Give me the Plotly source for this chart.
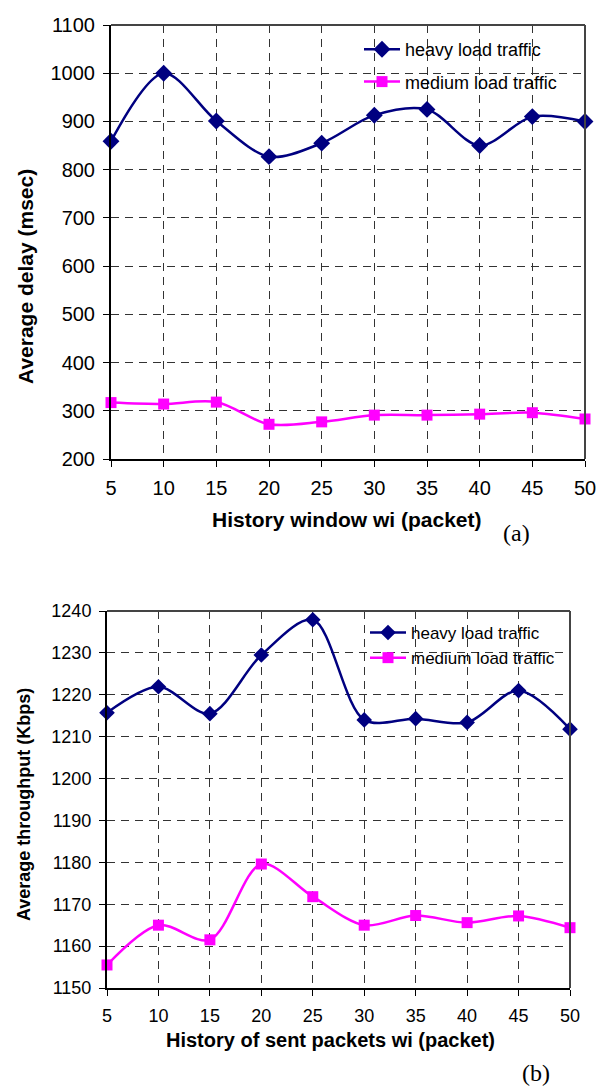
import plotly.graph_objects as go

# ---- data ----
window_sizes = [5, 10, 15, 20, 25, 30, 35, 40, 45, 50]

delay_heavy = [859, 1000, 901, 827, 855, 913, 925, 850, 910, 900]
delay_medium = [317, 314, 318, 272, 277, 291, 291, 293, 296, 283]

thr_heavy = [1215.7, 1221.9, 1215.5, 1229.5, 1237.9, 1214.0, 1214.3, 1213.4, 1221.0, 1211.8]
thr_medium = [1155.5, 1165.0, 1161.5, 1179.6, 1171.8, 1165.0, 1167.3, 1165.6, 1167.2, 1164.4]

delay_ticks = [200, 300, 400, 500, 600, 700, 800, 900, 1000, 1100]
thr_ticks = [1150, 1160, 1170, 1180, 1190, 1200, 1210, 1220, 1230, 1240]

series_names = ["heavy load traffic", "medium load traffic"]

W, H = 598, 1088
NAVY = "#000080"
MAG = "#FF00FF"
FONT = "Liberation Sans, Arial, sans-serif"


def px(x):
    return x / W


def py(y):
    return 1 - y / H


fig = go.Figure()

# top chart (a)
fig.add_trace(go.Scatter(
    x=window_sizes, y=delay_heavy, name=series_names[0], mode="lines+markers",
    line=dict(color=NAVY, width=2.5, shape="spline", smoothing=0.9),
    marker=dict(symbol="diamond", size=13, color=NAVY),
    cliponaxis=False, xaxis="x", yaxis="y", legend="legend", legendgroup="a1"))
fig.add_trace(go.Scatter(
    x=window_sizes, y=delay_medium, name=series_names[1], mode="lines+markers",
    line=dict(color=MAG, width=2.5, shape="spline", smoothing=0.9),
    marker=dict(symbol="square", size=11, color=MAG),
    cliponaxis=False, xaxis="x", yaxis="y", legend="legend", legendgroup="a2"))

# bottom chart (b)
fig.add_trace(go.Scatter(
    x=window_sizes, y=thr_heavy, name=series_names[0], mode="lines+markers",
    line=dict(color=NAVY, width=2.5, shape="spline", smoothing=0.9),
    marker=dict(symbol="diamond", size=12, color=NAVY),
    cliponaxis=False, xaxis="x2", yaxis="y2", legend="legend2", legendgroup="b1"))
fig.add_trace(go.Scatter(
    x=window_sizes, y=thr_medium, name=series_names[1], mode="lines+markers",
    line=dict(color=MAG, width=2.5, shape="spline", smoothing=0.9),
    marker=dict(symbol="square", size=11, color=MAG),
    cliponaxis=False, xaxis="x2", yaxis="y2", legend="legend2", legendgroup="b2"))

grid = dict(showgrid=True, gridcolor="#333333", gridwidth=1, griddash="8px,6px",
            showline=True, linecolor="black", linewidth=2, mirror=False,
            ticks="outside", ticklen=6, tickcolor="black", tickwidth=1,
            zeroline=False, automargin=False, ticklabelstandoff=4)

fig.update_layout(
    width=W, height=H,
    margin=dict(l=0, r=0, t=0, b=0, autoexpand=False),
    paper_bgcolor="white", plot_bgcolor="white",
    font=dict(family=FONT, color="black"),
    showlegend=True,
    xaxis=dict(domain=[px(111), px(585)], anchor="y", range=[5, 50],
               tickvals=window_sizes, tickfont=dict(size=20), **grid),
    yaxis=dict(domain=[py(459), py(25)], anchor="x", range=[200, 1100],
               tickvals=delay_ticks, tickfont=dict(size=20), **grid),
    xaxis2=dict(domain=[px(107), px(570)], anchor="y2", range=[5, 50],
                tickvals=window_sizes, tickfont=dict(size=18), **grid),
    yaxis2=dict(domain=[py(988), py(611)], anchor="x2", range=[1150, 1240],
                tickvals=thr_ticks, tickfont=dict(size=18), **grid),
    legend=dict(x=px(359), y=py(31), xanchor="left", yanchor="top",
                bgcolor="rgba(0,0,0,0)", font=dict(size=18, family=FONT),
                traceorder="grouped", tracegroupgap=6, itemwidth=36),
    legend2=dict(x=px(365), y=py(615), xanchor="left", yanchor="top",
                 bgcolor="rgba(0,0,0,0)", font=dict(size=17, family=FONT),
                 traceorder="grouped", tracegroupgap=0, itemwidth=36),
)

# grey top/right frame sides
for xd, yd in (("x domain", "y domain"), ("x2 domain", "y2 domain")):
    fig.add_shape(type="line", xref=xd, yref=yd, x0=0, x1=1, y0=1, y1=1,
                  line=dict(color="#444444", width=2))
    fig.add_shape(type="line", xref=xd, yref=yd, x0=1, x1=1, y0=0, y1=1,
                  line=dict(color="#444444", width=2))

annots = [
    dict(text="<b>Average delay (msec)</b>", x=px(25), y=py(277), textangle=-90,
         font=dict(size=21)),
    dict(text="<b>History window wi (packet)</b>", x=px(347), y=py(519),
         font=dict(size=21)),
    dict(text="(a)", x=px(516), y=py(533),
         font=dict(size=24, family="Liberation Serif, Times New Roman, serif")),
    dict(text="<b>Average throughput (Kbps)</b>", x=px(24), y=py(805), textangle=-90,
         font=dict(size=18)),
    dict(text="<b>History of sent packets wi (packet)</b>", x=px(330), y=py(1040),
         font=dict(size=20)),
    dict(text="(b)", x=px(536), y=py(1073),
         font=dict(size=24, family="Liberation Serif, Times New Roman, serif")),
]
for a in annots:
    fig.add_annotation(xref="paper", yref="paper", showarrow=False,
                       xanchor="center", yanchor="middle", **a)

fig.write_html(
    "out.html",
    config={"displayModeBar": False},
    post_script=("document.documentElement.style.overflow='hidden';"
                 "document.body.style.overflow='hidden';"
                 "document.body.style.margin='0';"),
)
